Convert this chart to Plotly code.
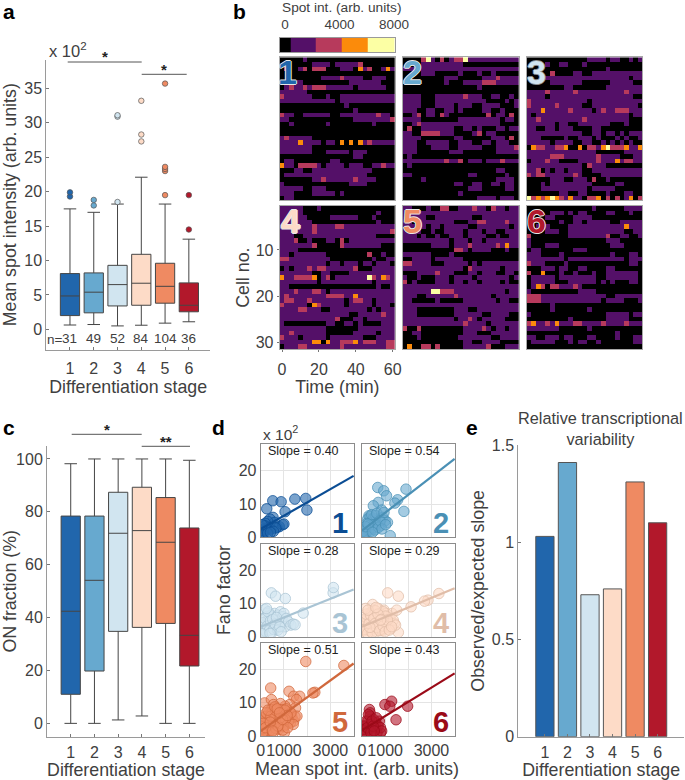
import plotly.graph_objects as go

W, H = 685, 780
FONT = "Liberation Sans"
INK = "#404040"
AXC = "#9a9a9a"

stages = [1, 2, 3, 4, 5, 6]
stage_colors = ["#2166ac", "#67a9cf", "#d1e5f0", "#fddbc7", "#ef8a62", "#b2182b"]
line_colors = ["#0b4d94", "#4a90b5", "#a9c4d4", "#e0bda8", "#d0683c", "#9b0a18"]

# panel a (x 10^2)
a_q1 = [2.0, 2.4, 3.4, 3.5, 3.8, 2.55]
a_med = [4.85, 5.4, 6.5, 6.7, 6.25, 3.5]
a_q3 = [8.1, 8.2, 9.3, 10.9, 9.6, 6.75]
a_low = [0.63, 0.7, 0.5, 0.6, 0.9, 1.1]
a_up = [17.5, 17.0, 18.2, 22.1, 18.2, 13.1]
a_out = [[19.3, 19.9], [18.0, 18.8], [18.5, 30.9, 31.1], [27.3, 28.3, 33.2],
         [19.5, 23.0, 23.3, 23.6, 35.7], [14.5, 19.5]]
a_n = [31, 49, 52, 84, 104, 36]

# panel c
c_q1 = [11.0, 19.8, 34.8, 36.3, 37.8, 21.7]
c_med = [42.4, 54.1, 71.9, 72.9, 68.5, 33.3]
c_q3 = [78.4, 78.4, 87.4, 89.3, 85.4, 73.9]
c_low = [0, 0, 1.3, 2.8, 0, 0]
c_up = [98.2, 100, 100, 100, 100, 99.5]

# panel e
e_vals = [1.03, 1.41, 0.73, 0.76, 1.31, 1.10]

# panel b: intensity class per cell, one string per cell (row), one character per frame
level_values = [0, 1200, 3200, 5100, 7200]
heat1 = [
    "0000010000000000000000000",
    "0000000111101111120000000",
    "0200120222000111031200131",
    "0000000000000000000000000",
    "0000000001111211110011100",
    "0001100000000001111111000",
    "0121121222111111011111100",
    "1111110000000000000000000",
    "2111111000100111111111111",
    "1111111111110111111111111",
    "0000000000000010000000000",
    "0000000000000000100000000",
    "2110011111100111111112110",
    "1100000000000000111111112",
    "0010000000100000000010000",
    "0000000000000000000000000",
    "0000000000000000000000000",
    "1211111000000000000000000",
    "1111311110110303031211111",
    "1111111000000000000000000",
    "1111111000111110111000000",
    "0000000000000000110000000",
    "0110000000011000000000000",
    "3110222210111101110011211",
    "0001100111111111111100000",
    "0111111111111111111000000",
    "0000000112111111211110000",
    "1000000000000001111000000",
    "1111100111000000000000000",
    "1110000111110100000000000",
    "0110000000000000000000000",
]
heat2 = [
    "0000241020122411111111111",
    "0000111111111000000000000",
    "1111111111111111111111111",
    "0000111000001000100100000",
    "0000000001110000011121111",
    "0000000001000111122211111",
    "0000000000000000100000000",
    "0000000000000000000000000",
    "1111000111111211100110010",
    "1111000111111111110000101",
    "1111000111101110011110001",
    "1110011001101000011001000",
    "0012011021000000002011020",
    "1111000000001111111110110",
    "0012111111111111111110000",
    "0200111111100110100011011",
    "1100222211100001201100000",
    "1111000000011000000111020",
    "1110011111001110011011100",
    "1110001111001111100011112",
    "1110000000111000000011111",
    "0100000000000000000000000",
    "1111111112112011101112111",
    "0100000000000000000000000",
    "0000000000000000000011000",
    "1100000000000011000000100",
    "0000100000000000000011110",
    "0000000000011001100110110",
    "0000000000000011100000110",
    "0000000000001000000000000",
    "0000000000000000111101110",
]
heat3 = [
    "0000000000000111101100101",
    "0000100110001000000000000",
    "0000000000000000010000000",
    "0000020000110011111111111",
    "0000111111111111111111011",
    "0000011111110000001111100",
    "0000000011000000011111111",
    "1111211111211111111112111",
    "1111011111111111111111100",
    "2111111111111011111111111",
    "2111112111110011111111110",
    "1113111112111101211222111",
    "1011111111111111111111011",
    "1121111111112111111111000",
    "1111110110011111110001000",
    "1100110111000011000000000",
    "1111111111110011011010111",
    "1110000010011101000101001",
    "1111101111001100101010100",
    "0322112230030221342223113",
    "1111111111111110000001111",
    "1111122211111112111100011",
    "0111211000011112111312211",
    "1111111111110211100000000",
    "1120101101110011111111111",
    "2122111111210000111111111",
    "0000011100111020010000000",
    "0001011111111100000110000",
    "0001111111111011111000000",
    "0000000110011000010001100",
    "4232343213110223020201302",
]
heat4 = [
    "1111100010000000000000000",
    "1111100000000000000001000",
    "1111110000011111100010000",
    "1111111000000000000001000",
    "1111111211112211111111111",
    "1111111211111111111111112",
    "1110011111111111111110000",
    "1112001000110201111111111",
    "1111111200000211111111000",
    "1111000000000000000000000",
    "1101111111000000000200100",
    "2211111111100000000010011",
    "1111111111011011101101110",
    "0101112122111111200011111",
    "1111111001100001111111111",
    "3112222301201111111421321",
    "1111111101111111111101111",
    "1100000000000000000001001",
    "1112111221011111111111111",
    "1211111111222211311111111",
    "1221112111111101221101111",
    "2111110321111101111101110",
    "1111221110011111111010111",
    "1111111111111110011111211",
    "1111111111112000110111111",
    "1000000000110011010000111",
    "1111111111000000011111111",
    "1121111111000000111110111",
    "2111011111011111110001111",
    "1111111330311222312221122",
    "0111221111111211111111122",
]
heat5 = [
    "1100010022001112110211011",
    "1111111111111111111111111",
    "1111100111111110011111111",
    "1100111111100011221111211",
    "1111101101111100111111101",
    "1111001001111011101100111",
    "1110100100111011110010011",
    "1111111111011101101111111",
    "0000001111011121111121311",
    "0000000000022101111000100",
    "1111110000100000000000000",
    "0011110111111000000000000",
    "2211110001111101011111111",
    "1111111111111021111110111",
    "0001111211100011011100110",
    "1001000111011110111111101",
    "2010000111011011011110100",
    "1111111111111111111111111",
    "1111114422211111111111011",
    "1110011111121111111011111",
    "1100000100000111111101100",
    "1111111111111111111111111",
    "1110000000011100111111111",
    "1110000000011111100111100",
    "1111111111101121011111000",
    "1111111111111211110111111",
    "2002000000000111121011011",
    "0011000000000111000111111",
    "0001000000001111111001111",
    "0000000000000110011110000",
    "0300220200000111112000111",
]
heat6 = [
    "0000000000000010000001111",
    "0000011101011000011000100",
    "0000110000111100000000000",
    "0000000100110111110011111",
    "0011100001111111111113111",
    "0000111001111111111110011",
    "2000000001111111120011001",
    "1000000000000000011100000",
    "1000111000000000001110000",
    "0110000000111000000000000",
    "1110000100000000001000110",
    "1111111101111111111110111",
    "2111000010000000000000110",
    "0001110110011000011000000",
    "2003000100100010011111110",
    "0111110111111110011111110",
    "0111110001111110101000110",
    "0132022111210000000000000",
    "1000000000011110000000000",
    "2221111111111111100111111",
    "2221111111111111011110001",
    "0000010000000000000000000",
    "0000010000000100000000000",
    "1000000000000000011111011",
    "0000000001000000011111000",
    "2311213111221111211112111",
    "1111111000000100000000000",
    "0000000000000000000100000",
    "1100111011000110000100011",
    "0111110001011001000000011",
    "0000000000000000000000000",
]
heat_panels = [heat1, heat2, heat3, heat4, heat5, heat6]
frame_minutes = [2.5 * i for i in range(25)]
cell_numbers = list(range(1, 32))

# panel d: mean spot intensity, Fano factor (x 10^2)
d1_x = [520, 880, 1470, 1940, 1990, 1050, 260, 530, 400, 600, 300, 200, 150, 100, 80, 50, 120, 250, 350, 450, 700, 800, 950, 1000, 650, 550, 180, 90, 60, 300, 420]
d1_y = [11.0, 10.7, 11.5, 11.7, 8.2, 7.7, 8.6, 6.0, 5.5, 4.5, 4.8, 4.2, 2.5, 1.5, 1.2, 1.0, 2.0, 2.2, 3.0, 2.5, 3.0, 3.2, 3.8, 4.0, 2.8, 1.8, 3.5, 0.8, 3.8, 1.2, 1.5]
d2_x = [680, 940, 1060, 1900, 1540, 1420, 1810, 1220, 700, 490, 850, 300, 150, 100, 60, 200, 250, 350, 400, 500, 600, 650, 750, 800, 900, 1000, 1100, 80, 120, 180, 220, 280, 320, 380, 420, 480, 520, 560, 640, 720, 780, 860, 950, 1020, 40, 70, 150, 260, 450]
d2_y = [15.0, 14.0, 12.5, 14.5, 11.3, 10.3, 7.8, 0.5, 10.5, 9.5, 8.2, 6.5, 2.5, 1.5, 1.2, 3.0, 5.5, 6.2, 4.5, 5.8, 6.5, 4.0, 5.5, 3.5, 6.0, 5.0, 4.5, 2.0, 0.8, 1.5, 4.2, 2.0, 3.5, 1.8, 6.8, 2.8, 3.8, 2.2, 7.2, 3.0, 5.0, 2.5, 7.5, 3.8, 1.8, 0.9, 3.2, 4.0, 1.5]
d3_x = [460, 640, 1060, 3120, 3130, 1830, 170, 300, 500, 150, 100, 60, 200, 250, 350, 400, 450, 550, 600, 650, 700, 750, 800, 850, 900, 950, 1000, 1050, 1100, 1200, 1300, 1400, 1480, 90, 130, 180, 220, 280, 320, 380, 420, 480, 520, 560, 620, 680, 740, 820, 880, 250, 60, 400]
d3_y = [13.2, 12.2, 11.5, 13.2, 14.8, 7.1, 8.2, 7.0, 6.0, 2.5, 1.5, 3.5, 4.5, 6.0, 5.0, 3.0, 6.5, 4.0, 7.0, 2.5, 5.0, 6.5, 3.5, 7.5, 4.5, 6.0, 7.0, 3.0, 5.5, 4.5, 3.5, 3.8, 3.6, 4.2, 2.0, 5.5, 1.5, 3.2, 7.5, 2.0, 4.8, 1.2, 5.2, 2.2, 3.8, 5.8, 2.0, 3.0, 1.5, 8.5, 0.9, 1.0]
d4_x = [1110, 1570, 2850, 3320, 2120, 460, 1570, 2700, 100, 150, 200, 250, 300, 350, 400, 450, 500, 550, 600, 650, 700, 750, 800, 850, 900, 950, 1000, 1050, 1100, 1150, 1200, 1300, 1400, 1500, 60, 80, 120, 180, 220, 280, 320, 380, 420, 480, 520, 580, 620, 680, 720, 780, 820, 880, 920, 980, 1020, 1080, 1130, 1250, 1350, 1450, 40, 90, 130, 170, 240, 310, 370, 440, 510, 570, 630, 690, 760, 840, 910, 1000, 1100, 1180, 1280, 160, 260, 340, 600, 800]
d4_y = [13.2, 12.2, 11.0, 13.0, 9.0, 9.7, 1.3, 10.7, 2.5, 4.5, 3.0, 6.0, 2.0, 5.0, 7.5, 3.5, 8.0, 2.5, 6.5, 4.0, 8.5, 3.0, 7.0, 1.8, 5.5, 8.0, 4.5, 7.0, 6.0, 3.0, 5.5, 7.0, 4.0, 8.0, 4.8, 1.8, 3.5, 1.2, 5.5, 3.8, 7.0, 1.5, 4.8, 6.0, 3.2, 7.8, 1.5, 5.0, 3.5, 6.0, 2.2, 4.2, 7.5, 2.5, 6.2, 4.0, 3.0, 2.5, 5.0, 3.5, 3.0, 5.2, 2.2, 6.8, 1.0, 4.0, 6.5, 1.2, 5.5, 4.0, 2.8, 6.8, 1.8, 5.2, 3.2, 1.5, 5.0, 2.0, 3.0, 8.5, 8.0, 2.8, 8.8, 5.0]
d5_x = [1940, 3580, 2330, 430, 1220, 1420, 1680, 1540, 170, 460, 2250, 1250, 1500, 1300, 1150, 1050, 950, 850, 750, 650, 550, 450, 350, 250, 150, 100, 60, 40, 80, 120, 180, 220, 280, 320, 380, 420, 480, 520, 580, 620, 680, 720, 780, 820, 880, 920, 980, 1020, 1080, 1120, 1180, 1230, 1280, 1350, 1420, 1480, 1560, 200, 300, 400, 500, 600, 700, 800, 900, 1000, 1100, 1200, 1300, 1400, 150, 260, 360, 460, 560, 660, 760, 860, 960, 1060, 1160, 90, 130, 170, 240, 340, 440, 540, 640, 740, 840, 940, 1040, 1140, 50, 70, 110, 210, 310, 410, 510, 610, 710, 810]
d5_y = [22.5, 21.3, 13.2, 14.5, 13.5, 12.0, 12.0, 11.0, 10.0, 11.0, 13.0, 9.5, 8.5, 6.5, 5.5, 9.0, 7.5, 9.8, 5.0, 8.5, 9.5, 8.0, 7.0, 6.0, 3.5, 2.5, 1.8, 1.2, 0.8, 2.0, 1.0, 3.0, 2.0, 4.5, 1.5, 6.5, 3.0, 7.5, 2.5, 5.5, 3.5, 7.0, 2.0, 6.0, 3.0, 8.0, 4.0, 1.0, 6.5, 3.5, 5.0, 7.5, 4.0, 5.5, 4.5, 5.8, 6.0, 5.0, 3.8, 2.8, 5.2, 4.0, 6.0, 4.8, 6.8, 3.0, 8.2, 4.5, 7.0, 3.5, 4.2, 1.5, 5.8, 1.8, 6.2, 2.2, 7.2, 3.8, 1.8, 5.0, 2.5, 3.0, 1.2, 5.8, 7.0, 3.2, 6.0, 1.0, 7.8, 3.0, 5.5, 5.0, 7.8, 6.2, 2.2, 0.9, 3.8, 2.5, 7.8, 4.2, 1.5, 8.8, 8.2, 7.0]
d6_x = [1470, 1970, 1280, 990, 1200, 320, 350, 800, 100, 60, 150, 200, 250, 300, 350, 400, 450, 500, 550, 600, 650, 700, 750, 800, 850, 40, 80, 120, 180, 230, 280, 380, 430, 480, 530, 620]
d6_y = [4.9, 9.0, 10.5, 9.5, 9.0, 8.0, 7.0, 0.9, 2.0, 1.0, 3.0, 1.0, 4.5, 2.0, 6.0, 3.5, 1.2, 5.0, 2.5, 4.0, 1.0, 3.0, 4.5, 2.5, 1.5, 2.0, 3.0, 0.8, 4.5, 2.5, 6.5, 1.0, 4.5, 3.0, 1.5, 5.5]
d_x = [d1_x, d2_x, d3_x, d4_x, d5_x, d6_x]
d_y = [d1_y, d2_y, d3_y, d4_y, d5_y, d6_y]
d_slopes = [0.40, 0.54, 0.28, 0.29, 0.51, 0.43]
d_intercepts = [2.5, 2.0, 3.0, 3.0, 1.5, 1.7]
d_line_x = [0, 4000]

cbar_edges = [-390, 390, 2250, 4190, 6100, 8050]
cbar_vals = [0, 1200, 3200, 5100, 7200]


def rgba(hexc, a):
    hexc = hexc.lstrip("#")
    return "rgba(%d,%d,%d,%.2f)" % (int(hexc[0:2], 16), int(hexc[2:4], 16), int(hexc[4:6], 16), a)


def px_x(x0, x1):
    return [x0 / W, x1 / W]


def px_y(y0, y1):
    return [1 - y1 / H, 1 - y0 / H]


HEAT_SCALE = [
    [0, "#000000"], [0.04, "#000000"],
    [0.04, "#541068"], [0.28, "#541068"],
    [0.28, "#b73a5c"], [0.52, "#b73a5c"],
    [0.52, "#fb8b0b"], [0.76, "#fb8b0b"],
    [0.76, "#fcffa4"], [1, "#fcffa4"],
]
TITLE = 17.8

fig = go.Figure()
layout = dict(
    template="none",
    width=W, height=H, autosize=False,
    margin=dict(l=0, r=0, t=0, b=0, pad=0),
    paper_bgcolor="white", plot_bgcolor="white",
    showlegend=False, boxmode="overlay",
    font=dict(family=FONT, color=INK, size=15),
)
annotations = []
shapes = []


def note(text, x, y, size=15, color=INK, xanchor="center", yanchor="middle", bold=False, textangle=0, **kw):
    if bold:
        text = "<b>%s</b>" % text
    annotations.append(dict(text=text, x=x / W, y=1 - y / H, xref="paper", yref="paper",
                            showarrow=False, xanchor=xanchor, yanchor=yanchor, textangle=textangle,
                            font=dict(size=size, color=color, family=FONT, **kw)))


def bar_line(x0, x1, y):
    shapes.append(dict(type="line", xref="paper", yref="paper", x0=x0 / W, x1=x1 / W,
                       y0=1 - y / H, y1=1 - y / H, line=dict(color="#555555", width=1)))


def base_axis(**kw):
    d = dict(showgrid=False, zeroline=False, showline=True, linecolor=AXC, linewidth=1,
             ticks="inside", ticklen=3, tickcolor="#777777", tickwidth=1, automargin=False,
             tickfont=dict(size=16, color=INK, family=FONT), tickangle=0, mirror=False)
    d.update(kw)
    return d


# ---------- panel a
layout["xaxis"] = base_axis(domain=px_x(46.3, 210), range=[0.004, 6.89], anchor="y",
                            tickvals=stages, ticklabelstandoff=4,
                            title=dict(text="Differentiation stage", font=dict(size=TITLE, color=INK), standoff=3))
layout["yaxis"] = base_axis(domain=px_y(59.5, 350), range=[-3.0, 39.2], anchor="x",
                            tickvals=[0, 5, 10, 15, 20, 25, 30, 35],
                            title=dict(text="Mean spot intensity (arb. units)", font=dict(size=TITLE, color=INK), standoff=6))
for i, s in enumerate(stages):
    fig.add_trace(go.Box(x=[s], q1=[a_q1[i]], median=[a_med[i]], q3=[a_q3[i]],
                         lowerfence=[a_low[i]], upperfence=[a_up[i]], width=0.81, whiskerwidth=0.65,
                         fillcolor=stage_colors[i], line=dict(color="#454545", width=1),
                         boxpoints=False, xaxis="x", yaxis="y"))
    fig.add_trace(go.Scatter(x=[s] * len(a_out[i]), y=a_out[i], mode="markers", xaxis="x", yaxis="y",
                             marker=dict(size=5.5, color=stage_colors[i], line=dict(color="#555555", width=0.7))))
    annotations.append(dict(text=str(a_n[i]), x=s, y=-1.4, xref="x", yref="y", showarrow=False,
                            font=dict(size=13.5, color=INK, family=FONT)))
note("n=", 55, 339, size=13.5)
note("x 10<sup>2</sup>", 47, 50, size=16.5, xanchor="left")
bar_line(67.7, 141.7, 62)
bar_line(141.7, 186.7, 74.3)
note("*", 104.7, 57, size=15, color="#222222", bold=True)
note("*", 164, 69, size=15, color="#222222", bold=True)

# ---------- panel c
layout["xaxis2"] = base_axis(domain=px_x(47, 205), range=[0.0, 6.66], anchor="y2",
                             tickvals=stages, ticklabelstandoff=1,
                             title=dict(text="Differentiation stage", font=dict(size=TITLE, color=INK), standoff=6))
layout["yaxis2"] = base_axis(domain=px_y(446, 736.7), range=[-5.04, 104.9], anchor="x2",
                             tickvals=[0, 20, 40, 60, 80, 100],
                             title=dict(text="ON fraction (%)", font=dict(size=TITLE, color=INK), standoff=8))
for i, s in enumerate(stages):
    fig.add_trace(go.Box(x=[s], q1=[c_q1[i]], median=[c_med[i]], q3=[c_q3[i]],
                         lowerfence=[c_low[i]], upperfence=[c_up[i]], width=0.81, whiskerwidth=0.65,
                         fillcolor=stage_colors[i], line=dict(color="#454545", width=1),
                         boxpoints=False, xaxis="x2", yaxis="y2"))
bar_line(71.7, 141.7, 434.3)
bar_line(141.7, 190, 446.3)
note("*", 106.7, 429, size=15, color="#222222", bold=True)
note("**", 166, 441, size=15, color="#222222", bold=True)

# ---------- panel e
layout["xaxis3"] = base_axis(domain=px_x(518.3, 684), range=[-0.18, 7.17], anchor="y3",
                             tickvals=stages, ticklabelstandoff=1,
                             title=dict(text="Differentiation stage", font=dict(size=TITLE, color=INK), standoff=6))
layout["yaxis3"] = base_axis(domain=px_y(445, 736.7), range=[0, 1.5], anchor="x3",
                             tickvals=[0, 0.5, 1, 1.5], ticktext=["0", "0.5", "1", "1.5"],
                             title=dict(text="Observed/expected slope", font=dict(size=TITLE, color=INK), standoff=2))
fig.add_trace(go.Bar(x=stages, y=e_vals, width=0.81, xaxis="x3", yaxis="y3",
                     marker=dict(color=stage_colors, line=dict(color="#555555", width=1))))
note("Relative transcriptional<br>variability", 600, 428, size=16.3)

# ---------- panel b colour key
layout["xaxis4"] = dict(domain=px_x(279.7, 394.7), range=[-390, 8050], anchor="y4", side="top", automargin=False,
                        tickvals=[0, 4000, 8000], ticks="", showgrid=False, zeroline=False, showline=True,
                        mirror=True, linecolor=AXC, linewidth=1, tickangle=0,
                        tickfont=dict(size=13.5, color=INK, family=FONT), ticklabelstandoff=2)
layout["yaxis4"] = dict(domain=px_y(37.7, 52.3), range=[-0.5, 0.5], anchor="x4", showticklabels=False, automargin=False,
                        ticks="", showgrid=False, zeroline=False, showline=True, mirror=True,
                        linecolor=AXC, linewidth=1)
fig.add_trace(go.Heatmap(x=cbar_edges, y=[0], z=[cbar_vals], xaxis="x4", yaxis="y4", zmin=0, zmax=8000,
                         colorscale=HEAT_SCALE, showscale=False, hoverinfo="skip"))
note("Spot int. (arb. units)", 280, 7.5, size=13.7, xanchor="left")

# ---------- panel b heatmaps
heat_x = [(279.7, 395), (402.7, 519), (526.7, 642.3)]
heat_y = [(57.3, 200), (206, 349.3)]
digit_pos = [(287, 72), (413, 72), (536, 72), (290, 221), (413, 221), (536, 221)]
for k, rows in enumerate(heat_panels):
    idx = 5 + k
    xa, ya = "xaxis%d" % idx, "yaxis%d" % idx
    xr, yr = "x%d" % idx, "y%d" % idx
    cx, cy = heat_x[k % 3], heat_y[k // 3]
    show_x = k == 3
    layout[xa] = dict(domain=px_x(*cx), range=[-1.25, 61.25], anchor=yr, showgrid=False, zeroline=False,
                      showline=True, mirror=True, linecolor="#a8a8a8", linewidth=1, automargin=False,
                      tickvals=[0, 20, 40, 60], showticklabels=show_x, ticks="outside" if show_x else "",
                      ticklen=2, tickcolor="#777777", tickangle=0,
                      tickfont=dict(size=16, color=INK, family=FONT), ticklabelstandoff=3)
    layout[ya] = dict(domain=px_y(*cy), range=[31.5, 0.5], anchor=xr, showgrid=False, zeroline=False,
                      showline=True, mirror=True, linecolor="#a8a8a8", linewidth=1, automargin=False,
                      tickvals=[10, 20, 30], showticklabels=show_x, ticks="outside" if show_x else "",
                      ticklen=2, tickcolor="#777777",
                      tickfont=dict(size=16, color=INK, family=FONT))
    if show_x:
        layout[xa]["title"] = dict(text="Time (min)", font=dict(size=TITLE, color=INK), standoff=2)
        layout[ya]["title"] = dict(text="Cell no.", font=dict(size=TITLE, color=INK), standoff=1)
    z = [[level_values[int(c)] for c in r.ljust(25, "0")[:25]] for r in rows]
    fig.add_trace(go.Heatmap(x=frame_minutes, y=cell_numbers, z=z, xaxis=xr, yaxis=yr, zmin=0, zmax=8000,
                             colorscale=HEAT_SCALE, showscale=False, hoverinfo="skip"))
    outline = "#8c8c8c" if k == 2 else "#e8e8e8"
    shadow = ", ".join("%dpx %dpx 0 %s" % (a, b, outline) for a, b in ((-1, 0), (1, 0), (0, -1), (0, 1)))
    note(str(k + 1), digit_pos[k][0], digit_pos[k][1], size=34, color=stage_colors[k], bold=True, shadow=shadow)

# ---------- panel d
sc_x = [(260.7, 354.3), (362, 455.3)]
sc_y = [(444.3, 537.3), (543.7, 636.7), (643.3, 736)]
for k in range(6):
    idx = 11 + k
    xa, ya = "xaxis%d" % idx, "yaxis%d" % idx
    xr, yr = "x%d" % idx, "y%d" % idx
    cx, cy = sc_x[k % 2], sc_y[k // 2]
    bottom, left = k // 2 == 2, k % 2 == 0
    layout[xa] = dict(domain=px_x(*cx), range=[0, 4030], anchor=yr, showgrid=True, gridcolor="#e4e4e4",
                      gridwidth=1, zeroline=False, showline=True, mirror=True, linecolor="#8c8c8c", linewidth=1,
                      tickvals=[0, 1000, 3000], minor=dict(tickvals=[2000], showgrid=True, gridcolor="#e4e4e4", ticks=""),
                      automargin=False, showticklabels=bottom, ticks="", tickangle=0,
                      tickfont=dict(size=16, color=INK, family=FONT))
    layout[ya] = dict(domain=px_y(*cy), range=[0, 28], anchor=xr, showgrid=True, gridcolor="#e4e4e4",
                      gridwidth=1, zeroline=False, showline=True, mirror=True, linecolor="#8c8c8c", linewidth=1,
                      tickvals=[0, 10, 20], showticklabels=left, ticks="", automargin=False,
                      tickfont=dict(size=16, color=INK, family=FONT))
    fig.add_trace(go.Scatter(x=d_x[k], y=d_y[k], mode="markers", xaxis=xr, yaxis=yr,
                             marker=dict(size=10.5, color=rgba(stage_colors[k], 0.6),
                                         line=dict(color=rgba(line_colors[k], 0.75), width=1))))
    fig.add_trace(go.Scatter(x=d_line_x, y=[d_intercepts[k], d_intercepts[k] + d_slopes[k] * d_line_x[1] / 100],
                             mode="lines", xaxis=xr, yaxis=yr,
                             line=dict(color=line_colors[k], width=2.2)))
    note("Slope = %.2f" % d_slopes[k], cx[0] + 5, cy[0] + 7, size=12.5, color="#222222", xanchor="left")
    note(str(k + 1), cx[1] - 4, cy[1] - 14, size=29, color=line_colors[k], xanchor="right", bold=True)
note("x 10<sup>2</sup>", 261, 433, size=15.5, xanchor="left")
note("Fano factor", 224, 590, size=TITLE, textangle=-90)
note("Mean spot int. (arb. units)", 357, 769, size=18)

# ---------- panel letters
for letter, lx, ly in [("a", 1, 12), ("b", 231, 12), ("c", 1, 427), ("d", 210, 427), ("e", 464, 427)]:
    note(letter, lx, ly, size=21, color="#000000", xanchor="left", bold=True)

layout["annotations"] = annotations
layout["shapes"] = shapes
fig.update_layout(**layout)
fig.write_html("out.html", config={"displayModeBar": False},
               post_script="document.body.style.margin='0';")
